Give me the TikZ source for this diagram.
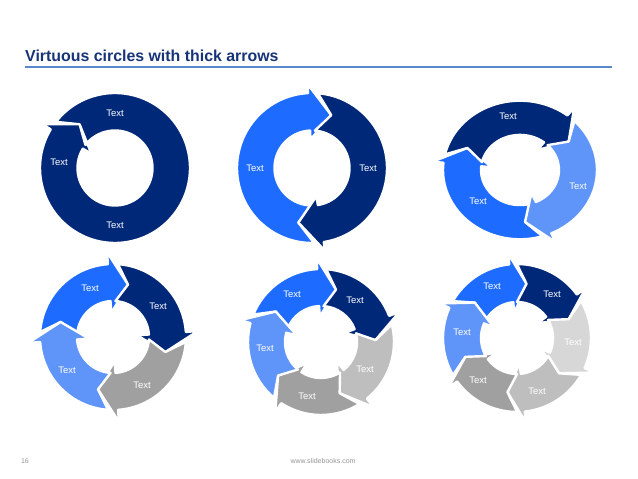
\documentclass[tikz,border=0pt]{standalone}
\usepackage{fontspec}
\setmainfont{Liberation Sans}
\definecolor{cnavy}{RGB}{0,40,120}
\definecolor{cblue}{RGB}{30,108,255}
\definecolor{clblue}{RGB}{95,148,248}
\definecolor{cgrayA}{RGB}{160,160,160}
\definecolor{cgrayB}{RGB}{190,190,190}
\definecolor{cgrayC}{RGB}{215,215,215}
\definecolor{ctitle}{RGB}{24,52,120}
\definecolor{cline}{RGB}{90,135,205}
\definecolor{cfoot}{RGB}{150,150,150}
\newcommand\setring[4]{\def\CRi{#1}\def\CRo{#2}\def\CH{#3}\def\CW{#4}%
  \pgfmathsetmacro\CRm{(#1+#2)/2}%
  \pgfmathsetmacro\CT{(#2-#1)/2/((#2-#1)/2+#4)}}
\newcommand\carr[3]{%
  \filldraw[arrowshape, fill=#3]
    ({#1+\CH*\CT}:\CRo) arc[start angle={#1+\CH*\CT}, end angle={#2+\CH}, radius=\CRo]
    -- ({#2+\CH}:{\CRo+\CW}) -- (#2:\CRm) -- ({#2+\CH}:{\CRi-\CW}) -- ({#2+\CH}:\CRi)
    arc[start angle={#2+\CH}, end angle={#1+\CH*\CT}, radius=\CRi]
    -- (#1:\CRm) -- cycle;}
\tikzset{
  arrowshape/.style={draw=white, line width=2.4pt, line join=round},
  lbl/.style={text=white, font=\fontsize{9.5}{11}\selectfont, inner sep=0pt},
}
\begin{document}
\begin{tikzpicture}[x=1pt,y=1pt]
\useasboundingbox (0,0) rectangle (638,479);
\fill[white] (0,0) rectangle (638,479);
% title
\node[anchor=base west, text=ctitle, font=\bfseries\fontsize{15.9}{18}\selectfont, inner sep=0pt] (title) at (25,417) {Virtuous circles with thick arrows};
\coordinate (tl) at (25,412);
\coordinate (tr) at (612,412);
\draw[cline, line width=1.2pt] (tl) -- (tr);
% footer
\node[text=cfoot, font=\fontsize{7}{8}\selectfont, inner sep=0pt] (pg) at (25,18) {16};
\node[text=cfoot, font=\fontsize{7}{8}\selectfont, inner sep=0pt] (url) at (323,18) {www.slidebooks.com};
% circle 1
\begin{scope}[shift={(115,311)}]
\setring{37.5}{75}{20}{10}
\carr{129}{-231}{cnavy}
\end{scope}
% circle 2
\begin{scope}[shift={(312,311)}]
\setring{37.5}{75}{23}{9}
\carr{256}{70}{cblue}
\carr{70}{-104}{cnavy}
\end{scope}
% circle 3
\begin{scope}[shift={(520,309)}, yscale=0.9]
\setring{39}{77}{19}{11}
\carr{275}{155}{cblue}
\carr{155}{33}{cnavy}
\carr{33}{-85}{clblue}
\end{scope}
% circle 4
\begin{scope}[shift={(113,142)}]
\setring{36}{73}{20}{12}
\carr{164}{74}{cblue}
\carr{74}{-16}{cnavy}
\carr{-16}{-106}{cgrayA}
\carr{-106}{-196}{clblue}
\end{scope}
% circle 5
\begin{scope}[shift={(321,137)}]
\setring{36}{73}{19}{11}
\carr{146}{74}{cblue}
\carr{74}{2}{cnavy}
\carr{2}{-70}{cgrayB}
\carr{-70}{-142}{cgrayA}
\carr{-142}{-214}{clblue}
\end{scope}
% circle 6
\begin{scope}[shift={(517,141)}]
\setring{36}{74}{16}{11}
\carr{140}{80}{cblue}
\carr{80}{20}{cnavy}
\carr{20}{-40}{cgrayC}
\carr{-40}{-100}{cgrayB}
\carr{-100}{-160}{cgrayA}
\carr{-160}{-220}{clblue}
\end{scope}
% labels circle 1
\node[lbl] (a1) at (115,366) {Text};
\node[lbl] (a2) at (59,317) {Text};
\node[lbl] (a3) at (115,254) {Text};
% circle 2
\node[lbl] (b1) at (255,311) {Text};
\node[lbl] (b2) at (368,311) {Text};
% circle 3
\node[lbl] (c1) at (508,363) {Text};
\node[lbl] (c2) at (578,293) {Text};
\node[lbl] (c3) at (478,278) {Text};
% circle 4
\node[lbl] (d1) at (90,191) {Text};
\node[lbl] (d2) at (158,173) {Text};
\node[lbl] (d3) at (142,94) {Text};
\node[lbl] (d4) at (67,109) {Text};
% circle 5
\node[lbl] (e1) at (292,185) {Text};
\node[lbl] (e2) at (355,179) {Text};
\node[lbl] (e3) at (365,110) {Text};
\node[lbl] (e4) at (307,83) {Text};
\node[lbl] (e5) at (265,131) {Text};
% circle 6
\node[lbl] (f1) at (492,193) {Text};
\node[lbl] (f2) at (552,185) {Text};
\node[lbl] (f3) at (573,137) {Text};
\node[lbl] (f4) at (537,88) {Text};
\node[lbl] (f5) at (478,99) {Text};
\node[lbl] (f6) at (462,147) {Text};
\end{tikzpicture}
\end{document}
